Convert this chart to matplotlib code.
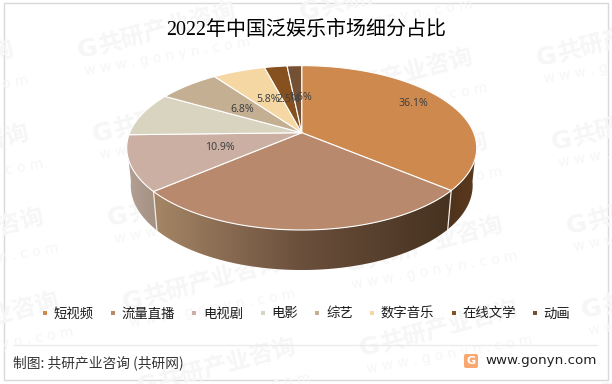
import numpy as np
import matplotlib
matplotlib.use('Agg')
import matplotlib.pyplot as plt
from matplotlib.colors import LinearSegmentedColormap
from matplotlib.lines import Line2D
from matplotlib.patches import Polygon, Rectangle, FancyBboxPatch

CJK = ['Noto Sans CJK SC', 'DejaVu Sans']
plt.rcParams['font.family'] = CJK

# ---- data ----
categories = ['短视频', '流量直播', '电视剧', '电影', '综艺', '数字音乐', '在线文学', '动画']
shares = [36.1, 27.6, 10.9, 8.7, 6.8, 5.8, 2.5, 1.6]
labelled = [True, False, True, False, True, True, True, True]
title = '2022年中国泛娱乐市场细分占比'
footer = '制图: 共研产业咨询 (共研网)'
site = 'www.gonyn.com'

# ---- style ----
top_colors = ['#CE8A4E', '#B8896C', '#CBAFA3', '#D9D4C0', '#C4AF93', '#F5D7A3', '#86511F', '#745034']
wall_stops = {0: ['#4E331C', '#56361C', '#5A3A1E'],
              1: ['#A58666', '#6A4F3C', '#46321F'],
              2: ['#B5A297', '#AB978B', '#A48F83']}
label_xy = {0: (413, 104), 2: (220, 148), 4: (242, 109), 5: (268, 100), 6: (288, 99), 7: (300, 98)}

# projection of the disc into figure pixels
CX, CY, RX, RY, K = 301.7, 132.7, 172.0, 79.4, 0.184
FX, FY, DEPTH = 0.977, 1.03, 37.1


def top_pt(theta):
    x, y = np.sin(theta), np.cos(theta)
    s = 1 / (1 + K * y)
    return CX + RX * x * s, CY - RY * y * s


def low_pt(theta):
    X, Y = top_pt(theta)
    return CX + FX * (X - CX), CY + DEPTH + FY * (Y - CY)


fig = plt.figure(figsize=(6.12, 3.84), dpi=100)
ax = fig.add_axes([0, 0, 1, 1])
ax.set_axis_off()

frame = Rectangle((3.5, 2.5), 604.5, 377, fc='white', ec='#D9D9D9', lw=1.0, zorder=0)
ax.add_patch(frame)

# ---- watermark lattice ----
WM = '#F6F6F6'
for i in range(-2, 4):
    for j in range(-2, 5):
        gx = 92 + 222 * i + 15 * j
        gy = 135 - 38 * i + 84 * j
        if not (-150 < gx < 600 and 0 < gy < 400):
            continue
        ang = np.radians(11)
        t1 = ax.text(gx, gy, 'G', color=WM, fontsize=18, fontweight='bold', rotation=11,
                     rotation_mode='anchor', ha='left', va='center', zorder=0.5,
                     family='DejaVu Sans')
        t2 = ax.text(gx + 23 * np.cos(ang), gy - 23 * np.sin(ang), '共研产业咨询', color=WM,
                     fontsize=17, fontweight='bold', rotation=15, rotation_mode='anchor',
                     ha='left', va='center', zorder=0.5)
        t3 = ax.text(gx + 8, gy + 20, 'w w w . g o n y n . c o m', color=WM, fontsize=10,
                     rotation=10, rotation_mode='anchor', ha='left', va='center', zorder=0.5,
                     family='DejaVu Sans')
        for t in (t1, t2, t3):
            t.set_clip_path(frame)

# ---- pie ----
vals = np.asarray(shares, dtype=float)
bounds = np.concatenate([[0], np.cumsum(vals)]) / vals.sum() * 2 * np.pi
WALL_MIN, WALL_MAX = np.radians(98), np.radians(262)

for i in wall_stops:
    a0, a1 = max(bounds[i], WALL_MIN), min(bounds[i + 1], WALL_MAX)
    th = np.linspace(a0, a1, 160)
    tx, ty = top_pt(th)
    lx, ly = low_pt(th)
    poly = np.column_stack([np.r_[tx, lx[::-1]], np.r_[ty, ly[::-1]]])
    patch = Polygon(poly, closed=True, fc='none', ec='none', zorder=2)
    ax.add_patch(patch)
    x0, x1 = poly[:, 0].min(), poly[:, 0].max()
    y0, y1 = poly[:, 1].min(), poly[:, 1].max()
    cmap = LinearSegmentedColormap.from_list(f'w{i}', wall_stops[i])
    grad = np.linspace(0, 1, 256)[None, :]
    im = ax.imshow(grad, extent=(x0, x1, y1, y0), aspect='auto', cmap=cmap, zorder=2,
                   interpolation='bilinear')
    im.set_clip_path(patch)

for b in (bounds[1], bounds[2]):
    tx, ty = top_pt(b)
    lx, ly = low_pt(b)
    ax.plot([tx, lx], [ty, ly], color='#F0ECE8', lw=0.9, zorder=3)

for i, c in enumerate(top_colors):
    th = np.linspace(bounds[i], bounds[i + 1], 80)
    tx, ty = top_pt(th)
    poly = np.column_stack([np.r_[CX, tx], np.r_[CY, ty]])
    ax.add_patch(Polygon(poly, closed=True, fc=c, ec='white', lw=0.8, joinstyle='round', zorder=4))

for i, v in enumerate(shares):
    if labelled[i]:
        x, y = label_xy[i]
        ax.text(x, y, f'{v:.1f}%', color='#404040', fontsize=7.6, ha='center', va='center',
                family='Noto Sans', zorder=5)

ax.set_xlim(0, 612)
ax.set_ylim(384, 0)

# ---- texts ----
ax.text(306, 30, title, fontsize=14.4, color='black', ha='center', va='center',
        family=['Liberation Serif', 'Noto Sans CJK SC'], zorder=6)

handles = [Line2D([], [], ls='none', marker='s', ms=3.3, mfc=c, mec=c, mew=0) for c in top_colors]
fig.legend(handles, categories, ncol=len(categories), loc='center', bbox_to_anchor=(305 / 612, 1 - 313.5 / 384),
           frameon=False, fontsize=9.6, handlelength=0.8, handletextpad=0.25, columnspacing=1.05,
           borderpad=0, labelcolor='#1A1A1A')

ax.plot([14, 597], [345, 345], color='#EBEBEB', lw=1, zorder=1)
ax.text(13, 362.5, footer, fontsize=9.9, color='#333333', ha='left', va='center', zorder=6)

ax.add_patch(FancyBboxPatch((466, 356), 10, 10, boxstyle='round,pad=2,rounding_size=2',
                            fc='#F9A870', ec='none', zorder=6))
ax.text(471, 361.2, 'G', color='white', fontsize=8, fontweight='bold', ha='center', va='center',
        family='DejaVu Sans', zorder=7)
ax.text(597, 360.5, site, fontsize=9.7, color='#222222', ha='right', va='center',
        family='DejaVu Sans', zorder=6)

fig.savefig('out.png', dpi=100)
